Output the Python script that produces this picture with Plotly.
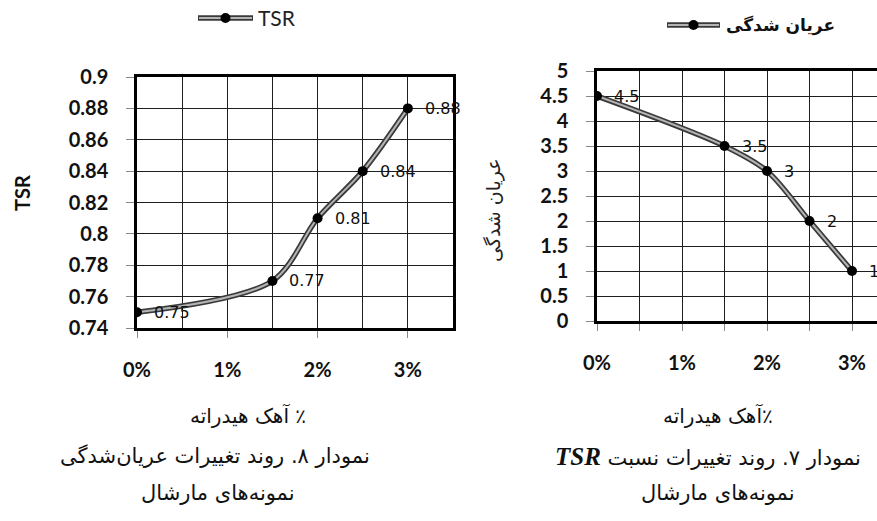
import plotly.graph_objects as go

W, H = 877, 521

# ---------------- data ----------------
lime_pct = [0, 1.5, 2, 2.5, 3]
tsr_values = [0.75, 0.77, 0.81, 0.84, 0.88]
tsr_labels = ["0.75", "0.77", "0.81", "0.84", "0.88"]
strip_values = [4.5, 3.5, 3, 2, 1]
strip_labels = ["4.5", "3.5", "3", "2", "1"]

x_tickvals = [0, 1, 2, 3]
x_ticktext = ["0%", "1%", "2%", "3%"]
tsr_tickvals = [0.74, 0.76, 0.78, 0.80, 0.82, 0.84, 0.86, 0.88, 0.90]
tsr_ticktext = ["0.74", "0.76", "0.78", "0.8", "0.82", "0.84", "0.86", "0.88", "0.9"]
strip_tickvals = [0, 0.5, 1, 1.5, 2, 2.5, 3, 3.5, 4, 4.5, 5]
strip_ticktext = ["0", "0.5", "1", "1.5", "2", "2.5", "3", "3.5", "4", "4.5", "5"]

legend_tsr = "TSR"
legend_strip = "عریان شدگی"
ytitle_tsr = "TSR"
ytitle_strip = "عریان شدگی"
xtitle_left = "٪ آهک هیدراته"
xtitle_right = "٪آهک هیدراته"
caption_left = "نمودار ۸. روند تغییرات عریان‌شدگی"
caption_right_a = "نمودار ۷. روند تغییرات نسبت "
caption_right_b = "TSR"
caption_sub = "نمونه‌های مارشال"

RLE, PDF = "\u202b", "\u202c"


def px(x):
    return x / W


def py(y):
    return 1 - y / H


OUTER = "#3a3a3a"
INNER = "#b4b4b4"
GRID = "#1e1e1e"

fig = go.Figure()

for xa, ya, vals in (("x", "y", tsr_values), ("x2", "y2", strip_values)):
    fig.add_trace(go.Scatter(x=lime_pct, y=vals, xaxis=xa, yaxis=ya, mode="lines",
                             line=dict(color=OUTER, width=5.5, shape="spline", smoothing=0.9),
                             showlegend=False, hoverinfo="skip"))
    fig.add_trace(go.Scatter(x=lime_pct, y=vals, xaxis=xa, yaxis=ya, mode="lines",
                             line=dict(color=INNER, width=2, shape="spline", smoothing=0.9),
                             showlegend=False, hoverinfo="skip"))
    fig.add_trace(go.Scatter(x=lime_pct, y=vals, xaxis=xa, yaxis=ya, mode="markers",
                             marker=dict(color="black", size=10),
                             showlegend=False))

tick_font = dict(family="Lato", size=20, color="#111", weight="bold")

common_x = dict(
    tickvals=x_tickvals, ticktext=x_ticktext, tickfont=tick_font,
    showgrid=True, gridcolor=GRID, gridwidth=1,
    showline=True, linecolor="black", linewidth=2.5,
    ticks="outside", ticklen=7, tickcolor="#888", tickwidth=1,
    ticklabelstandoff=15, zeroline=False, fixedrange=True, automargin=False,
)
common_y = dict(
    tickfont=tick_font, showgrid=True, gridcolor=GRID, gridwidth=1,
    showline=True, linecolor="black", linewidth=2.5,
    ticks="outside", ticklen=8, tickcolor="#888", tickwidth=1,
    ticklabelstandoff=14, zeroline=False, fixedrange=True, automargin=False,
)

fig.update_layout(
    template="none",
    width=W, height=H,
    margin=dict(l=0, r=0, t=0, b=0, autoexpand=False),
    paper_bgcolor="white", plot_bgcolor="white",
    showlegend=False,
    xaxis=dict(**common_x, domain=[px(137), px(453)], range=[0, 3.5], mirror=True,
               minor=dict(dtick=0.5, tick0=0, showgrid=True, gridcolor=GRID, gridwidth=1, ticks="")),
    yaxis=dict(**common_y, domain=[py(328), py(77)], range=[0.74, 0.9], mirror=True,
               tickvals=tsr_tickvals, ticktext=tsr_ticktext, anchor="x"),
    xaxis2=dict(**common_x, domain=[px(597), 1.0], range=[0, (W - 597) / 85.0], mirror=True,
                anchor="y2",
                minor=dict(dtick=0.5, tick0=0, showgrid=True, gridcolor=GRID, gridwidth=1,
                           ticks="outside", ticklen=7, tickcolor="#888")),
    yaxis2=dict(**common_y, domain=[py(321), py(71)], range=[0, 5],
                tickvals=strip_tickvals, ticktext=strip_ticktext, anchor="x2"),
)

annotations = []
label_font = dict(family="DejaVu Sans", size=16, color="#111")
for xv, yv, t in zip(lime_pct, tsr_values, tsr_labels):
    annotations.append(dict(x=xv, y=yv, xref="x", yref="y", text=t, showarrow=False,
                            xanchor="left", yanchor="middle", xshift=15, font=label_font))
for xv, yv, t in zip(lime_pct, strip_values, strip_labels):
    annotations.append(dict(x=xv, y=yv, xref="x2", yref="y2", text=t, showarrow=False,
                            xanchor="left", yanchor="middle", xshift=15, font=label_font))


def paper_note(x, y, text, font, xanchor="center", angle=0):
    return dict(x=px(x), y=py(y), xref="paper", yref="paper", text=text, showarrow=False,
                xanchor=xanchor, yanchor="middle", textangle=angle, font=font)


cap = dict(family="DejaVu Sans", size=21, color="#111")
annotations += [
    # axis titles
    paper_note(22, 193, ytitle_tsr, dict(family="Lato", size=20, color="#111", weight="bold"), angle=-90),
    paper_note(493, 210, RLE + ytitle_strip + PDF, dict(family="DejaVu Sans", size=19, color="#222"), angle=-90),
    # legend texts
    paper_note(256, 18, legend_tsr, dict(family="Lato", size=21, color="#222"), xanchor="left"),
    paper_note(724, 25, RLE + legend_strip + PDF,
               dict(family="DejaVu Sans", size=17, color="#111", weight="bold"), xanchor="left"),
    # x titles / captions
    paper_note(248, 415, RLE + xtitle_left + PDF, dict(family="DejaVu Sans", size=20, color="#111")),
    paper_note(718, 415, RLE + xtitle_right + PDF, dict(family="DejaVu Sans", size=20, color="#111")),
    paper_note(215, 456, RLE + caption_left + PDF, cap),
    paper_note(708, 456, RLE + caption_right_a
               + "<b><i><span style=\"font-family:'Liberation Serif';font-size:25px\">"
               + caption_right_b + "</span></i></b>" + PDF, cap),
    paper_note(218, 493, RLE + caption_sub + PDF, cap),
    paper_note(718, 493, RLE + caption_sub + PDF, cap),
]

fig.update_layout(annotations=annotations)

# legend symbols
shapes = []
for (x0, x1, yc) in ((198, 253, 18), (667, 720, 25)):
    shapes.append(dict(type="line", xref="paper", yref="paper", x0=px(x0), x1=px(x1),
                       y0=py(yc), y1=py(yc), line=dict(color=OUTER, width=5.5)))
    shapes.append(dict(type="line", xref="paper", yref="paper", x0=px(x0 + 1), x1=px(x1 - 1),
                       y0=py(yc), y1=py(yc), line=dict(color=INNER, width=2)))
    cx = (x0 + x1) / 2
    shapes.append(dict(type="circle", xref="paper", yref="paper", x0=px(cx - 5), x1=px(cx + 5),
                       y0=py(yc + 5), y1=py(yc - 5), fillcolor="black", line=dict(color="black", width=0)))
fig.update_layout(shapes=shapes)

fig.write_html("out.html", config={"displayModeBar": False},
               post_script="document.body.style.margin='0px';")
